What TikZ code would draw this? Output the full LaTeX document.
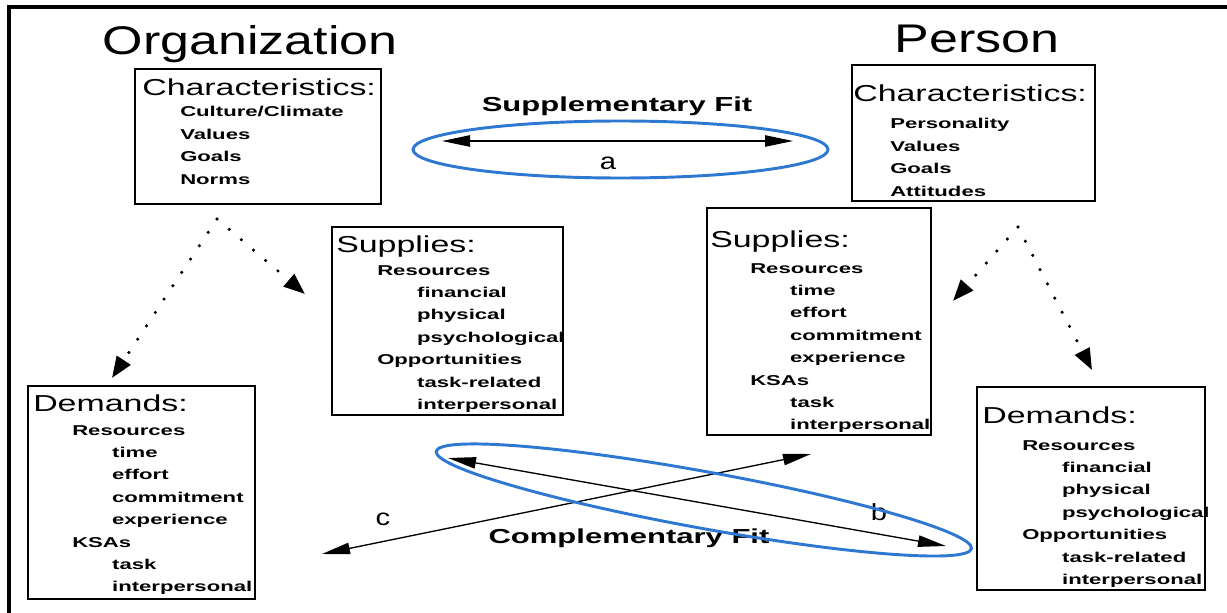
\documentclass[tikz,border=0pt]{standalone}
\usepackage{graphicx}
\usepackage{fontspec}
\setmainfont{Liberation Sans}
\usetikzlibrary{arrows.meta}
\definecolor{fitblue}{RGB}{46,120,210}

% horizontally widened text
\newcommand{\wideT}[1]{\scalebox{1.3}[1]{#1}}
\newcommand{\wideH}[1]{\scalebox{1.47}[1]{#1}}
\newcommand{\wideF}[1]{\scalebox{1.53}[1]{#1}}
\newcommand{\wideL}[1]{\scalebox{1.25}[1]{#1}}
\newcommand{\itemlist}[1]{\scalebox{1.55}[1]{\begin{tabular}[t]{@{}l@{}}#1\end{tabular}}}
\newcommand{\ind}{\hspace*{19.3pt}}

\tikzset{
  box/.style 2 args={draw, line width=1.1pt, inner sep=0pt,
    minimum width=#1*0.75pt, minimum height=#2*0.75pt},
  title/.style={inner sep=0pt, anchor=base, font=\fontsize{30}{36}\selectfont},
  head/.style={inner sep=0pt, anchor=base west, font=\fontsize{17.3}{20}\selectfont},
  items/.style={inner sep=0pt, anchor=base west, font=\fontsize{10.7}{16.8}\selectfont\bfseries},
  fitlabel/.style={inner sep=0pt, anchor=base, font=\fontsize{15.2}{18}\selectfont\bfseries},
  letter/.style={inner sep=0pt, anchor=center, font=\fontsize{17.5}{20}\selectfont},
  frame/.style={line width=2.5pt},
  dotarrow/.style={line width=2.6pt, line cap=round, dash pattern=on 0pt off 12pt,
    -{Triangle[length=16pt,width=12pt]}},
  fitarrow/.style={line width=1pt,
    {Triangle[length=21pt,width=8.5pt]}-{Triangle[length=21pt,width=8.5pt]}},
  fitring/.style={draw=fitblue, line width=2.2pt},
}

\begin{document}
\begin{tikzpicture}[x=0.75pt, y=-0.75pt]
\useasboundingbox (0,0) rectangle (1227,613);

% page frame
\draw[frame] (9,613) -- (9,7) -- (1227,7);

% column titles
\node[title] (org-title) at (250,55) {\wideT{Organization}};
\node[title] (per-title) at (977,53) {\wideT{Person}};

% boxes
\node[box={246}{135}] (oc) at (258,136.5) {};
\node[box={243}{136}] (pc) at (973.5,133) {};
\node[box={231}{188}] (os) at (447.5,321) {};
\node[box={224}{227}] (ps) at (819,321.5) {};
\node[box={227}{213}] (od) at (141.5,492.5) {};
\node[box={228}{203}] (pd) at (1091,488.5) {};

% organization characteristics
\node[head] (oc-head) at (142,96) {\wideH{Characteristics:}};
\node[items] (oc-list) at (180,117) {\itemlist{Culture/Climate\\Values\\Goals\\Norms}};

% person characteristics
\node[head] (pc-head) at (853,102) {\wideH{Characteristics:}};
\node[items] (pc-list) at (890,129) {\itemlist{Personality\\Values\\Goals\\Attitudes}};

% organization supplies
\node[head] (os-head) at (336,252) {\wideH{Supplies:}};
\node[items] (os-list) at (377,275) {\itemlist{Resources\\\ind financial\\\ind physical\\\ind psychological\\Opportunities\\\ind task-related\\\ind interpersonal}};

% person supplies
\node[head] (ps-head) at (710,247) {\wideH{Supplies:}};
\node[items] (ps-list) at (750,273) {\itemlist{Resources\\\ind time\\\ind effort\\\ind commitment\\\ind experience\\KSAs\\\ind task\\\ind interpersonal}};

% organization demands
\node[head] (od-head) at (33,411) {\wideH{Demands:}};
\node[items] (od-list) at (72,435) {\itemlist{Resources\\\ind time\\\ind effort\\\ind commitment\\\ind experience\\KSAs\\\ind task\\\ind interpersonal}};

% person demands
\node[head] (pd-head) at (982,423) {\wideH{Demands:}};
\node[items] (pd-list) at (1022,450) {\itemlist{Resources\\\ind financial\\\ind physical\\\ind psychological\\Opportunities\\\ind task-related\\\ind interpersonal}};

% dotted branches from the characteristics
\coordinate (oc-split) at (217,219);
\coordinate (od-in) at (112,378);
\coordinate (os-in) at (305,294);
\coordinate (pc-split) at (1018,227);
\coordinate (ps-in) at (953,301);
\coordinate (pd-in) at (1092,370);
\draw[dotarrow] (oc-split) -- (od-in);
\draw[dotarrow] (oc-split) -- (os-in);
\draw[dotarrow] (pc-split) -- (ps-in);
\draw[dotarrow] (pc-split) -- (pd-in);

% supplementary fit
\node[fitlabel] (sup-label) at (617,112) {\wideF{Supplementary Fit}};
\coordinate (sa-l) at (442,141);
\coordinate (sa-r) at (793,141);
\draw[fitarrow] (sa-l) -- (sa-r);
\node[letter] (lab-a) at (608,163) {\wideL{a}};

% complementary fit
\coordinate (cb-l) at (448,458);
\coordinate (cb-r) at (946,546);
\coordinate (cc-l) at (322,554);
\coordinate (cc-r) at (811,454);
\draw[fitarrow] (cb-l) -- (cb-r);
\draw[fitarrow] (cc-l) -- (cc-r);
\node[letter] (lab-b) at (879,512) {\wideL{b}};
\node[letter] (lab-c) at (383,519) {\wideL{c}};
\node[fitlabel] (comp-label) at (629,543) {\wideF{Complementary Fit}};

% highlight rings
\draw[fitring] (620.5,149.5) ellipse (207.5 and 28.5);
\draw[fitring, rotate around={-10.3:(704,499)}] (704,500) ellipse (272 and 28.3);
\end{tikzpicture}
\end{document}
